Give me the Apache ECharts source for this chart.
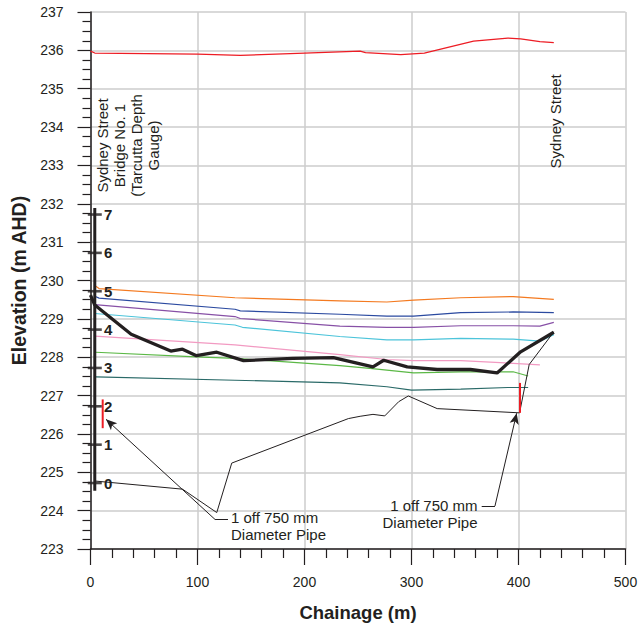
<!DOCTYPE html>
<html><head><meta charset="utf-8">
<script src="https://cdn.jsdelivr.net/npm/echarts@6/dist/echarts.min.js"></script>
<style>html,body{margin:0;padding:0;background:#fff}#c{width:641px;height:629px}</style>
</head><body><div id="c"></div>
<script>
const FONT = '"Liberation Sans", Arial, Helvetica, sans-serif';
const TXT = '#231f20';

// chainage (m), elevation (m AHD)
const redTop = [[0,235.98],[4,235.93],[100,235.9],[140,235.87],[200,235.93],[252,235.98],[257,235.94],[290,235.89],[312,235.93],[358,236.24],[390,236.32],[402,236.3],[420,236.23],[433,236.2]];
const orangeLine = [[4,229.87],[8,229.79],[135,229.55],[233,229.47],[277,229.44],[302,229.49],[346,229.55],[395,229.58],[433,229.51]];
const blueLine = [[4,229.59],[8,229.54],[135,229.25],[140,229.21],[233,229.12],[277,229.07],[302,229.07],[346,229.16],[395,229.18],[433,229.16]];
const purpleLine = [[4,229.37],[135,229.06],[140,229.01],[233,228.81],[277,228.78],[302,228.78],[346,228.82],[395,228.82],[420,228.81],[433,228.91]];
const cyanLine = [[4,229.14],[135,228.84],[142,228.78],[233,228.54],[277,228.45],[302,228.45],[346,228.49],[395,228.47],[420,228.42],[433,228.59]];
const pinkLine = [[4,228.55],[135,228.32],[233,228.07],[277,227.94],[302,227.91],[346,227.91],[395,227.84],[420,227.8]];
const greenLine = [[5,228.13],[99,228.01],[135,227.97],[233,227.78],[261,227.71],[302,227.59],[346,227.62],[395,227.62],[409,227.51]];
const tealLine = [[5,227.49],[135,227.4],[233,227.33],[277,227.23],[300,227.14],[346,227.17],[390,227.21],[409,227.21]];
const blackThick = [[0,229.62],[4,229.36],[38,228.6],[75,228.16],[86,228.21],[99,228.04],[118,228.13],[143,227.91],[189,227.97],[227,227.99],[264,227.75],[274,227.92],[296,227.75],[324,227.68],[355,227.68],[380,227.59],[402,228.14],[433,228.65]];
const groundLine = [[5,224.77],[86,224.56],[118,223.95],[132,225.24],[241,226.4],[252,226.46],[264,226.51],[275,226.47],[288,226.84],[297,226.99],[324,226.66],[401,226.55],[410,227.81],[433,228.66]];

const pipeLeft = [[11.4,226.9],[11.4,226.15]];
const pipeRight = [[401.4,227.33],[401.4,226.55]];

const gaugeChainage = 4;
const gaugeZero = 224.72;
const gaugeMarks = [0,1,2,3,4,5,6,7];
const gaugeEnds = [231.89, 224.52];
const gaugeLabelChainage = 12.6;

// annotation anchor points (data coords)
const leaderLeft = [[128.5,223.77],[116.4,223.77],[14.5,226.38]];
const leaderRight = [[365.6,224.12],[378,224.12],[398.3,226.54]];
const pipeText = '1 off 750 mm\nDiameter Pipe';
const pipeTextLeftAt = [131.3,223.59];
const pipeTextRightAt = [361.7,223.9];
const gaugeText = 'Sydney Street\nBridge No. 1\n(Tarcutta Depth\nGauge)';
const gaugeTextAt = [35,233.52];
const streetText = 'Sydney Street';
const streetTextAt = [435,234.15];

function ln(data, color, width, z) {
  return {type:'line', data, symbol:'none', silent:true, z:z||2,
    lineStyle:{color, width}, emphasis:{disabled:true}};
}
function leader(pts) {
  return [
    [{coord:pts[0], symbol:'none'},{coord:pts[1], symbol:'none'}],
    [{coord:pts[1], symbol:'none'},{coord:pts[2], symbol:'arrow', symbolSize:[7,11]}]
  ];
}

const chart = echarts.init(document.getElementById('c'), null, {renderer:'svg'});
chart.setOption({
  animation:false,
  backgroundColor:'#fff',
  grid:{left:90.5, right:15.5, top:12, bottom:80, containLabel:false},
  xAxis:{type:'value', min:0, max:500, interval:100,
    name:'Chainage (m)', nameLocation:'middle', nameGap:54,
    nameTextStyle:{fontFamily:FONT, fontWeight:'bold', fontSize:18.5, color:TXT},
    axisLine:{show:true, lineStyle:{color:TXT, width:1.5}},
    axisTick:{show:true, length:16, lineStyle:{color:TXT, width:1.2}},
    minorTick:{show:true, splitNumber:5, length:9, lineStyle:{color:TXT, width:1.2}},
    axisLabel:{margin:26, fontFamily:FONT, fontSize:14, color:TXT},
    splitLine:{show:true, lineStyle:{color:'#cccccc', width:1.5}}
  },
  yAxis:{type:'value', min:223, max:237, interval:1,
    name:'Elevation (m AHD)', nameLocation:'middle', nameGap:58, nameRotate:90,
    nameTextStyle:{fontFamily:FONT, fontWeight:'bold', fontSize:19.5, color:TXT},
    axisLine:{show:true, lineStyle:{color:TXT, width:1.5}},
    axisTick:{show:true, length:13, lineStyle:{color:TXT, width:1.2}},
    minorTick:{show:true, splitNumber:4, length:8, lineStyle:{color:TXT, width:1.2}},
    axisLabel:{margin:27, fontFamily:FONT, fontSize:14, color:TXT},
    splitLine:{show:true, lineStyle:{color:'#cccccc', width:1.5}}
  },
  series:[
    ln(redTop, '#ed1c24', 1.2),
    ln(orangeLine, '#f47a20', 1.2),
    ln(blueLine, '#2b4aa0', 1.2),
    ln(purpleLine, '#8750a6', 1.2),
    ln(cyanLine, '#4cc4da', 1.2),
    ln(pinkLine, '#f29ac2', 1.2),
    ln(greenLine, '#5bb846', 1.2),
    ln(tealLine, '#2a6a68', 1.2),
    Object.assign(ln(groundLine, TXT, 1), {
      markLine:{silent:true, symbol:['none','none'], lineStyle:{color:TXT, width:1, type:'solid'},
        label:{show:false}, emphasis:{disabled:true},
        data: leader(leaderLeft).concat(leader(leaderRight))}
    }),
    ln(blackThick, TXT, 3.3, 3),
    ln(pipeLeft, '#ed1c24', 2, 4),
    ln(pipeRight, '#ed1c24', 2, 4),
    ln(gaugeEnds.map(e=>[gaugeChainage,e]), TXT, 3, 4),
    {type:'scatter', silent:true, z:5, symbol:'rect', symbolSize:[14,2.6],
      itemStyle:{color:TXT}, emphasis:{disabled:true},
      data: gaugeMarks.map(m=>[gaugeChainage, gaugeZero+m])}
  ]
});

function px(p){ return chart.convertToPixel({gridIndex:0}, p); }
const a = px(gaugeTextAt), b = px(streetTextAt), c = px(pipeTextLeftAt), d = px(pipeTextRightAt);
const ts = {font:'15px '+FONT, fill:TXT, lineHeight:17};
const graphics = [
  {type:'text', x:a[0], y:a[1], rotation:Math.PI/2, silent:true,
    style:Object.assign({text:gaugeText, align:'center', verticalAlign:'middle'}, ts)},
  {type:'text', x:b[0], y:b[1], rotation:Math.PI/2, silent:true,
    style:Object.assign({text:streetText, align:'center', verticalAlign:'middle'}, ts)},
  {type:'text', x:c[0], y:c[1], silent:true,
    style:Object.assign({text:pipeText, align:'left', verticalAlign:'middle'}, ts)},
  {type:'text', x:d[0], y:d[1], silent:true,
    style:Object.assign({text:pipeText, align:'right', verticalAlign:'middle'}, ts)}
];
gaugeMarks.forEach(m => {
  const p = px([gaugeLabelChainage, gaugeZero + m]);
  graphics.push({type:'text', x:p[0], y:p[1], silent:true, z:10,
    style:{text:String(m), align:'left', verticalAlign:'middle',
      font:'bold 15px '+FONT, fill:TXT}});
});
chart.setOption({graphic:graphics});
</script></body></html>
